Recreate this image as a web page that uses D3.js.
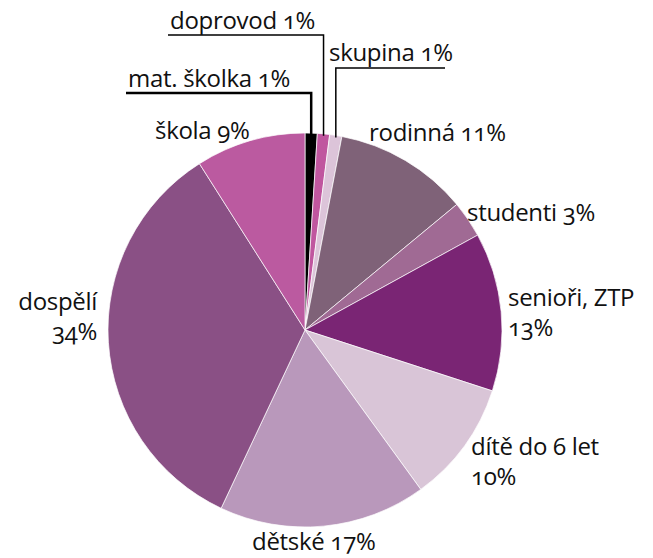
<!DOCTYPE html>
<meta charset="utf-8">
<style>
body { margin: 0; background: #fff; }
text { font-family: "Open Sans", "Noto Sans", sans-serif; font-size: 24px; fill: #111; font-variant-numeric: oldstyle-nums; letter-spacing: -0.3px; }
</style>
<body>
<script src="https://d3js.org/d3.v7.min.js"></script>
<script>
// slices clockwise from 12 o'clock
var labels = ["mat. školka", "doprovod", "skupina", "rodinná", "studenti", "senioři, ZTP", "dítě do 6 let", "dětské", "dospělí", "škola"];
var values = [1, 1, 1, 11, 3, 13, 10, 17, 34, 9];
var colors = ["#000000", "#c0569f", "#dcc4d9", "#7f6278", "#a06a94", "#7a2574", "#d9c5d7", "#b998bb", "#8a5085", "#bb5aa0"];

var width = 653, height = 558;
var cx = 305, cy = 330, r = 197;

var svg = d3.select("body").append("svg")
    .attr("width", width)
    .attr("height", height);

var pie = d3.pie().sort(null).value(function(d) { return d; });
var arcs = pie(values);
var arc = d3.arc().innerRadius(0).outerRadius(r);

var g = svg.append("g").attr("transform", "translate(" + cx + "," + cy + ")");

g.selectAll("path")
    .data(arcs)
  .enter().append("path")
    .attr("d", arc)
    .attr("fill", function(d, i) { return colors[i]; })
    .attr("stroke", "#fff")
    .attr("stroke-width", 0.7);

// label placement (line breaks where the reference wraps)
var labelPos = [
  {x: 128, y: 87, anchor: "start", lines: [labels[0] + " " + values[0] + "%"], leader: {y: 93, x0: 126, w: 2.5}},
  {x: 170, y: 29, anchor: "start", lines: [labels[1] + " " + values[1] + "%"], leader: {y: 35, x0: 168, w: 1.5}},
  {x: 329, y: 61, anchor: "start", lines: [labels[2] + " " + values[2] + "%"], leader: {y: 68, x0: 445, w: 1.5}},
  {x: 369, y: 141, anchor: "start", lines: [labels[3] + " " + values[3] + "%"]},
  {x: 467, y: 221, anchor: "start", lines: [labels[4] + " " + values[4] + "%"]},
  {x: 508, y: 306, anchor: "start", lines: [labels[5], values[5] + "%"]},
  {x: 471, y: 455, anchor: "start", lines: [labels[6], values[6] + "%"]},
  {x: 252, y: 550, anchor: "start", lines: [labels[7] + " " + values[7] + "%"]},
  {x: 97, y: 310, anchor: "end", lines: [labels[8], values[8] + "%"]},
  {x: 155, y: 139, anchor: "start", lines: [labels[9] + " " + values[9] + "%"]}
];

// leader lines for the three small slices
arcs.forEach(function(d, i) {
  var lp = labelPos[i];
  if (!lp.leader) return;
  var mid = (d.startAngle + d.endAngle) / 2;
  var px = cx + Math.sin(mid) * r;
  var py = cy - Math.cos(mid) * r;
  svg.append("polyline")
    .attr("points", [[lp.leader.x0, lp.leader.y], [px, lp.leader.y], [px, py + 2]].join(" "))
    .attr("fill", "none")
    .attr("stroke", "#000")
    .attr("stroke-width", lp.leader.w);
});

labelPos.forEach(function(lp) {
  lp.lines.forEach(function(line, k) {
    svg.append("text")
      .attr("x", lp.x)
      .attr("y", lp.y + k * 30)
      .attr("text-anchor", lp.anchor)
      .text(line);
  });
});
</script>
</body>
